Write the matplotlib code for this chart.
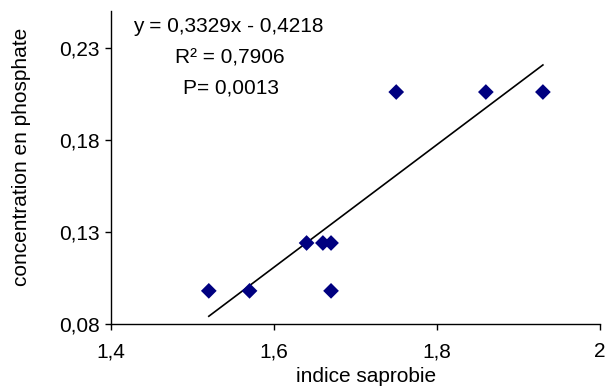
import matplotlib
matplotlib.use("Agg")
import matplotlib.pyplot as plt
import numpy as np

plt.rcParams['font.family'] = ['Liberation Sans', 'DejaVu Sans']

# saprobic index vs phosphate concentration, one point per station
indice = [1.52, 1.57, 1.64, 1.66, 1.67, 1.67, 1.75, 1.86, 1.93]
phosphate = [0.098, 0.098, 0.124, 0.124, 0.124, 0.098, 0.206, 0.206, 0.206]

# linear fit as reported
pente = 0.3329
origine = -0.4218
r2_txt = "0,7906"
p_txt = "0,0013"

x_ticks = [1.4, 1.6, 1.8, 2.0]
x_labels = ["1,4", "1,6", "1,8", "2"]
y_ticks = [0.08, 0.13, 0.18, 0.23]
y_labels = ["0,08", "0,13", "0,18", "0,23"]

FS = 15

fig = plt.figure(figsize=(6.06, 3.89), dpi=100)
ax = fig.add_axes([0.1832, 0.1671, 0.8068, 0.8046])

ax.scatter(indice, phosphate, marker='D', s=64, color='#000080',
           edgecolors='none', zorder=3)

xf = np.array([min(indice), max(indice)])
ax.plot(xf, pente * xf + origine, color='black', lw=1.2, zorder=2)

ax.set_xlim(1.4, 2.0)
ax.set_ylim(0.08, 0.25)
ax.set_xticks(x_ticks)
ax.set_xticklabels(x_labels)
ax.set_yticks(y_ticks)
ax.set_yticklabels(y_labels)

for side in ['top', 'right']:
    ax.spines[side].set_visible(False)
for side in ['left', 'bottom']:
    ax.spines[side].set_linewidth(1.0)
ax.tick_params(direction='out', length=4, width=1, labelsize=FS)
ax.tick_params(axis='x', pad=9)
ax.tick_params(axis='y', pad=4)

ax.set_xlabel("indice saprobie", fontsize=FS)
ax.xaxis.label.set_va('baseline')
ax.xaxis.set_label_coords(0.521, -0.185)

ax.set_ylabel("concentration en phosphate", fontsize=FS)
ax.yaxis.label.set_va('center')
ax.yaxis.set_label_coords(-0.184, 0.534)

eq = f"y = {pente:.4f}x - {abs(origine):.4f}".replace('.', ',')
fig.text(228 / 606, 1 - 26 / 389, eq, ha='center', va='center', fontsize=FS)
fig.text(230 / 606, 1 - 58 / 389, "R² = " + r2_txt, ha='center', va='center', fontsize=FS)
fig.text(231 / 606, 1 - 88 / 389, "P= " + p_txt, ha='center', va='center', fontsize=FS)

fig.savefig("out.png", dpi=100)
